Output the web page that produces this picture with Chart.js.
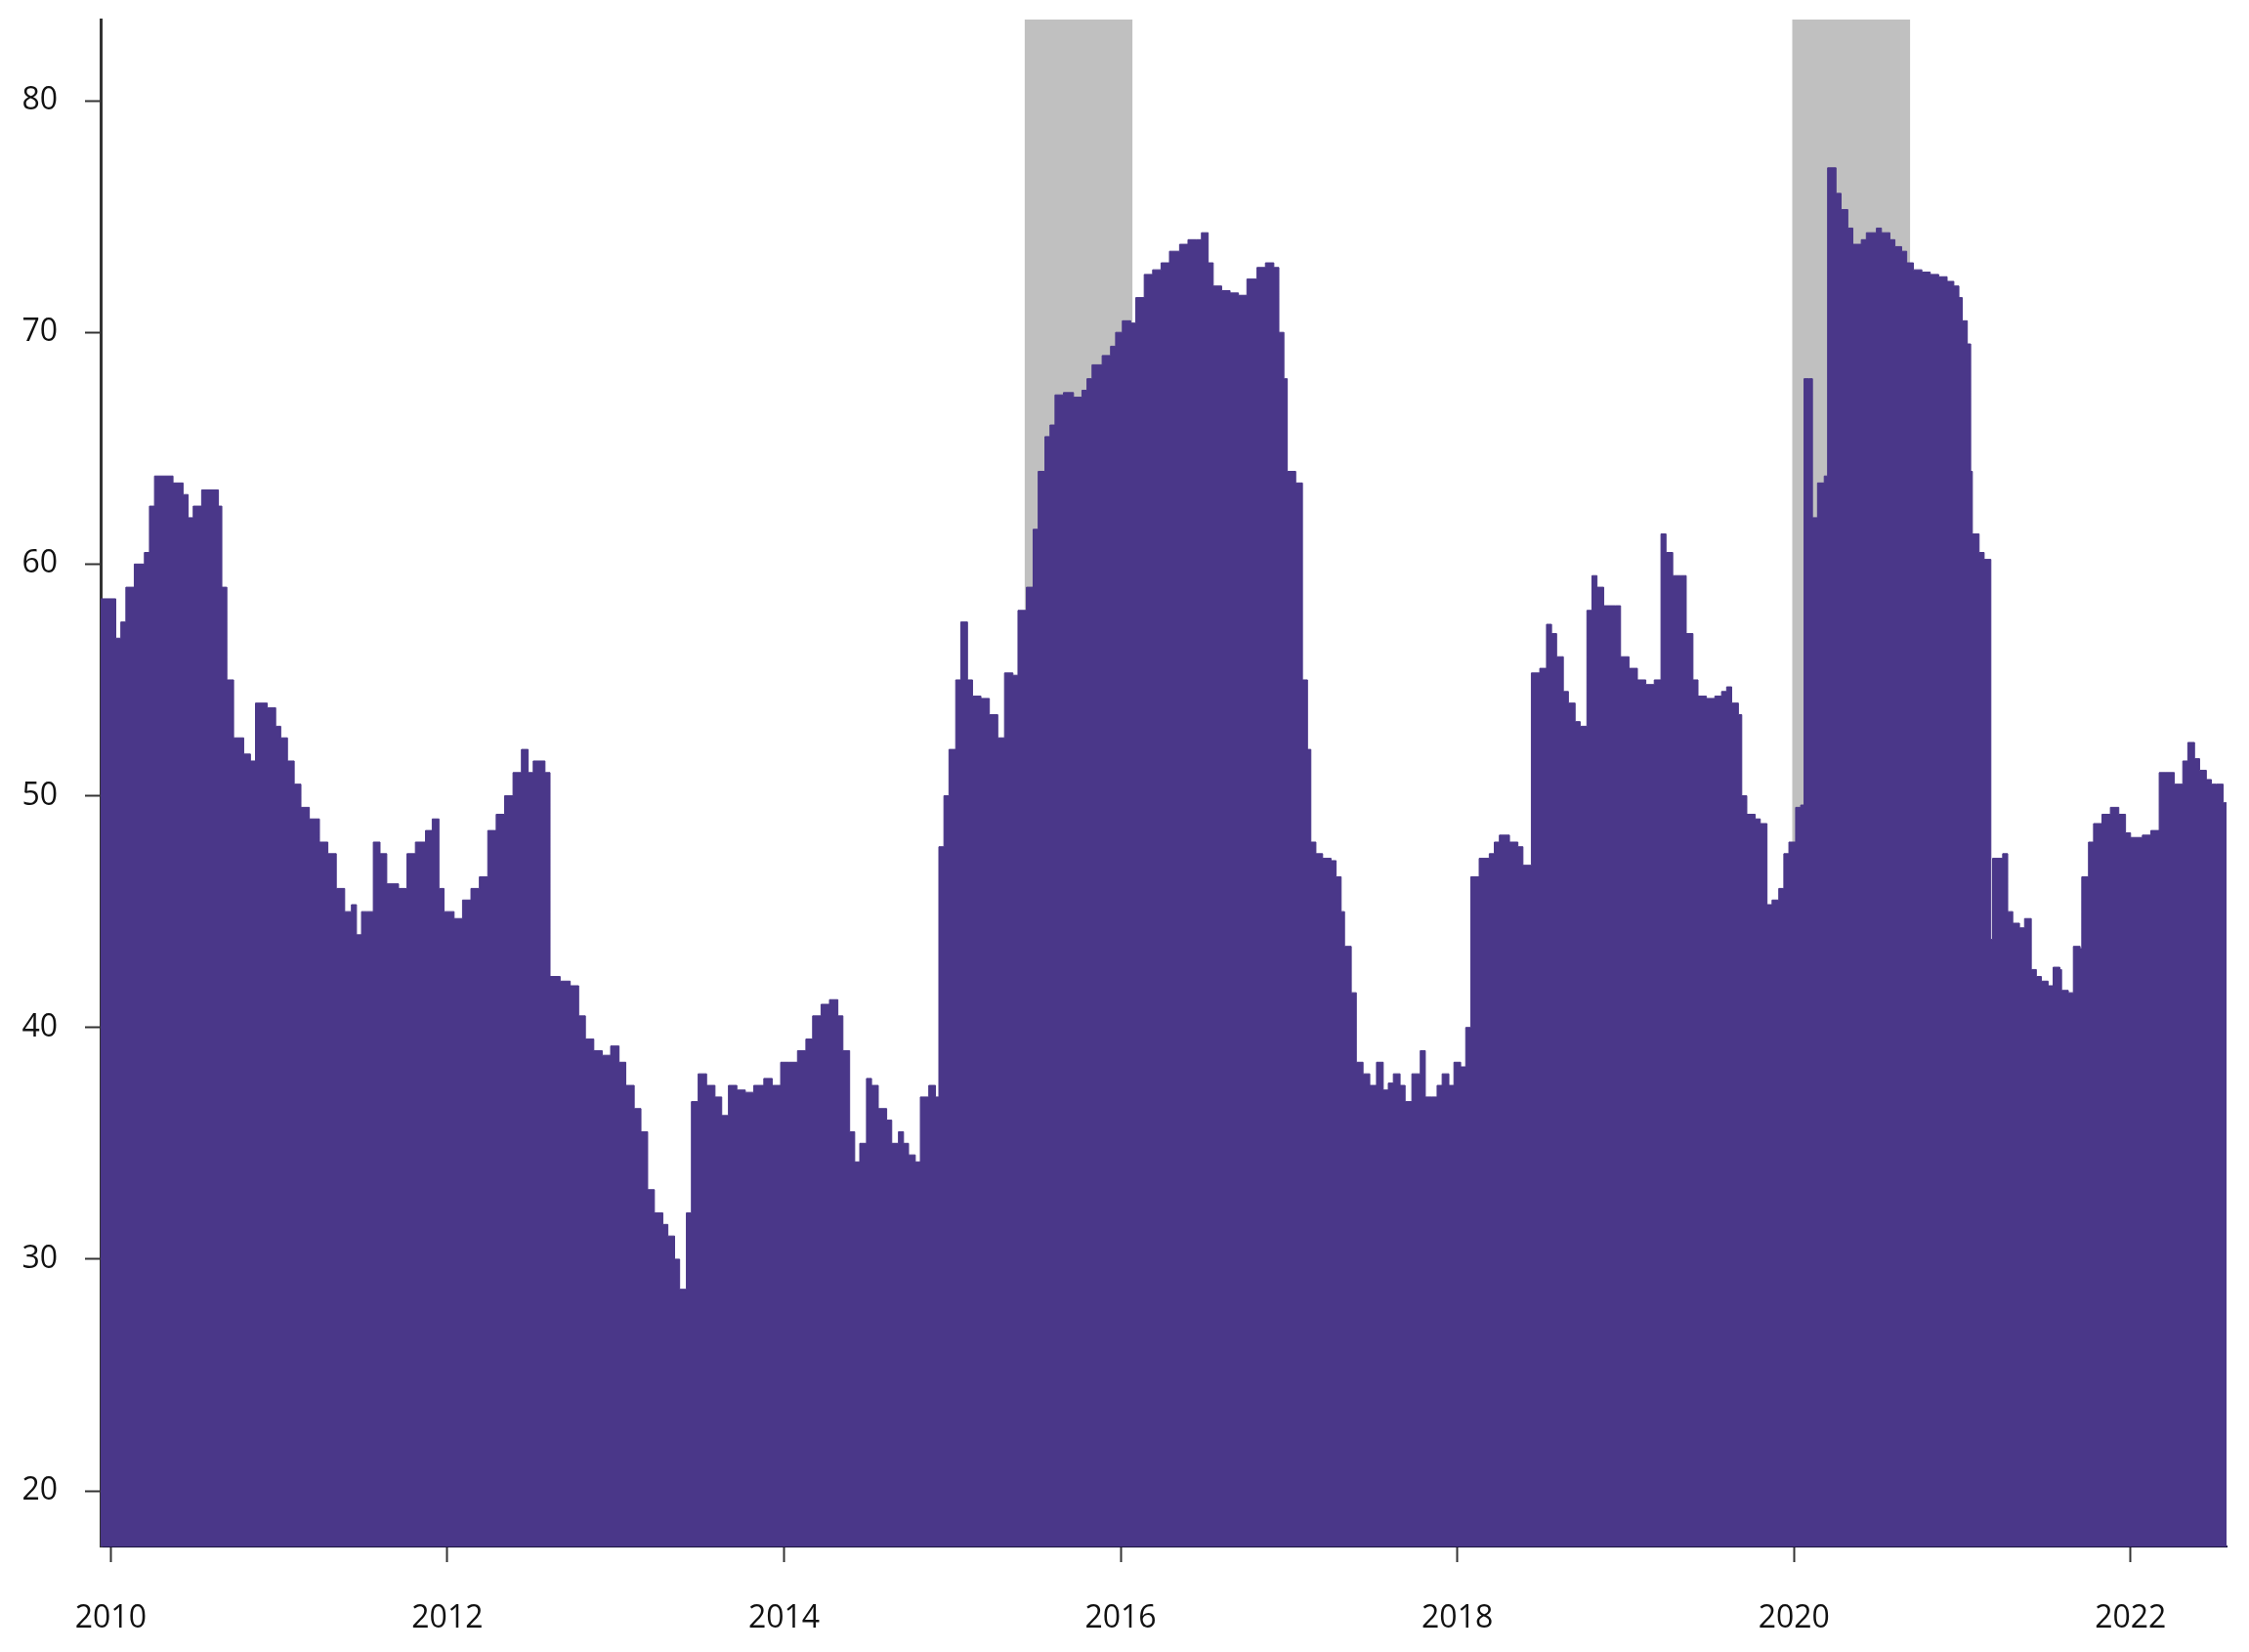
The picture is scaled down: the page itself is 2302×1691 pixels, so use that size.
<!DOCTYPE html>
<html>
<head>
<meta charset="utf-8">
<script src="https://cdn.jsdelivr.net/npm/chart.js@4"></script>
<style>
  html, body { margin: 0; padding: 0; background: #ffffff; }
  #wrap { width: 2302px; height: 1691px; }
</style>
</head>
<body>
<div id="wrap"><canvas id="myChart"></canvas></div>
<script>
// decimal years of each step start
const dates = [
  2009.94, 2010.03, 2010.06, 2010.09, 2010.14, 2010.20, 2010.23, 2010.26, 2010.37, 2010.43,
  2010.46, 2010.49, 2010.54, 2010.64, 2010.66, 2010.69, 2010.73, 2010.79, 2010.83, 2010.86,
  2010.93, 2010.98, 2011.01, 2011.05, 2011.09, 2011.13, 2011.18, 2011.24, 2011.29, 2011.34,
  2011.39, 2011.43, 2011.46, 2011.49, 2011.52, 2011.56, 2011.60, 2011.64, 2011.71, 2011.76,
  2011.81, 2011.87, 2011.91, 2011.95, 2011.98, 2012.04, 2012.09, 2012.14, 2012.19, 2012.24,
  2012.29, 2012.34, 2012.39, 2012.44, 2012.48, 2012.51, 2012.58, 2012.61, 2012.67, 2012.73,
  2012.78, 2012.82, 2012.87, 2012.92, 2012.97, 2013.02, 2013.06, 2013.11, 2013.15, 2013.19,
  2013.23, 2013.28, 2013.31, 2013.35, 2013.38, 2013.42, 2013.45, 2013.49, 2013.54, 2013.59,
  2013.63, 2013.67, 2013.72, 2013.77, 2013.82, 2013.88, 2013.93, 2013.98, 2014.03, 2014.08,
  2014.13, 2014.17, 2014.22, 2014.27, 2014.32, 2014.35, 2014.39, 2014.42, 2014.45, 2014.49,
  2014.52, 2014.56, 2014.61, 2014.64, 2014.68, 2014.71, 2014.74, 2014.78, 2014.81, 2014.86,
  2014.90, 2014.92, 2014.95, 2014.98, 2015.02, 2015.05, 2015.09, 2015.12, 2015.17, 2015.22,
  2015.27, 2015.31, 2015.36, 2015.39, 2015.44, 2015.48, 2015.51, 2015.55, 2015.58, 2015.61,
  2015.66, 2015.72, 2015.77, 2015.80, 2015.83, 2015.89, 2015.94, 2015.97, 2016.01, 2016.06,
  2016.09, 2016.14, 2016.19, 2016.24, 2016.29, 2016.35, 2016.40, 2016.45, 2016.48, 2016.52,
  2016.55, 2016.60, 2016.65, 2016.70, 2016.75, 2016.81, 2016.86, 2016.91, 2016.94, 2016.97,
  2016.99, 2017.04, 2017.08, 2017.11, 2017.13, 2017.16, 2017.20, 2017.25, 2017.28, 2017.31,
  2017.33, 2017.37, 2017.40, 2017.44, 2017.48, 2017.52, 2017.56, 2017.59, 2017.62, 2017.66,
  2017.69, 2017.73, 2017.78, 2017.81, 2017.85, 2017.88, 2017.91, 2017.95, 2017.98, 2018.02,
  2018.05, 2018.08, 2018.13, 2018.19, 2018.22, 2018.25, 2018.31, 2018.36, 2018.39, 2018.42,
  2018.44, 2018.49, 2018.53, 2018.56, 2018.59, 2018.63, 2018.66, 2018.70, 2018.73, 2018.77,
  2018.80, 2018.83, 2018.87, 2018.94, 2018.97, 2019.02, 2019.07, 2019.12, 2019.17, 2019.21,
  2019.24, 2019.28, 2019.33, 2019.36, 2019.40, 2019.43, 2019.48, 2019.53, 2019.57, 2019.60,
  2019.63, 2019.67, 2019.69, 2019.72, 2019.77, 2019.80, 2019.84, 2019.87, 2019.91, 2019.94,
  2019.97, 2020.01, 2020.04, 2020.06, 2020.09, 2020.11, 2020.14, 2020.18, 2020.20, 2020.25,
  2020.28, 2020.32, 2020.35, 2020.40, 2020.43, 2020.49, 2020.52, 2020.57, 2020.60, 2020.64,
  2020.67, 2020.71, 2020.76, 2020.81, 2020.86, 2020.91, 2020.95, 2020.98, 2021.00, 2021.03,
  2021.05, 2021.06, 2021.10, 2021.13, 2021.17, 2021.18, 2021.24, 2021.27, 2021.30, 2021.34,
  2021.37, 2021.41, 2021.44, 2021.47, 2021.51, 2021.54, 2021.58, 2021.59, 2021.63, 2021.66,
  2021.70, 2021.71, 2021.75, 2021.78, 2021.83, 2021.88, 2021.93, 2021.97, 2022.00, 2022.07,
  2022.12, 2022.17, 2022.21, 2022.26, 2022.31, 2022.34, 2022.38, 2022.41, 2022.45, 2022.48,
  2022.51, 2022.55, 2022.57
];

const values = [
  58.5, 56.8, 57.5, 59, 60, 60.5, 62.5, 63.8, 63.5, 63,
  62, 62.5, 63.2, 62.5, 59, 55, 52.5, 51.8, 51.5, 54,
  53.8, 53, 52.5, 51.5, 50.5, 49.5, 49, 48, 47.5, 46,
  45, 45.3, 44, 45, 45, 48, 47.5, 46.2, 46, 47.5,
  48, 48.5, 49, 46, 45, 44.7, 45.5, 46, 46.5, 48.5,
  49.2, 50, 51, 52, 51, 51.5, 51, 42.2, 42, 41.8,
  40.5, 39.5, 39, 38.8, 39.2, 38.5, 37.5, 36.5, 35.5, 33,
  32, 31.5, 31, 30, 28.7, 32, 36.8, 38, 37.5, 37,
  36.2, 37.5, 37.3, 37.2, 37.5, 37.8, 37.5, 38.5, 38.5, 39,
  39.5, 40.5, 41, 41.2, 40.5, 39, 35.5, 34.2, 35, 37.8,
  37.5, 36.5, 36, 35, 35.5, 35, 34.5, 34.2, 37, 37.5,
  37, 47.8, 50, 52, 55, 57.5, 55, 54.3, 54.2, 53.5,
  52.5, 55.3, 55.2, 58, 59, 61.5, 64, 65.5, 66, 67.3,
  67.4, 67.2, 67.5, 68, 68.6, 69, 69.4, 70, 70.5, 70.4,
  71.5, 72.5, 72.7, 73, 73.5, 73.8, 74, 74, 74.3, 73,
  72, 71.8, 71.7, 71.6, 72.3, 72.8, 73, 72.8, 70, 68,
  64, 63.5, 55, 52, 48, 47.5, 47.3, 47.2, 46.5, 45,
  43.5, 41.5, 38.5, 38, 37.5, 38.5, 37.3, 37.6, 38, 37.5,
  36.8, 38, 39, 37, 37, 37.5, 38, 37.5, 38.5, 38.3,
  40, 46.5, 47.3, 47.5, 48, 48.3, 48, 47.8, 47, 47,
  55.3, 55.5, 57.4, 57, 56, 54.5, 54, 53.2, 53, 58,
  59.5, 59, 58.2, 58.2, 56, 55.5, 55, 54.8, 55, 61.3,
  60.5, 59.5, 59.5, 57, 55, 54.3, 54.2, 54.3, 54.5, 54.7,
  54, 53.5, 50, 49.2, 49, 48.8, 45.3, 45.5, 46, 47.5,
  48, 49.5, 49.6, 68, 68, 62, 63.5, 63.8, 77.1, 76,
  75.3, 74.5, 73.8, 74, 74.3, 74.5, 74.3, 74, 73.7, 73.5,
  73, 72.7, 72.6, 72.5, 72.4, 72.2, 72, 71.5, 70.5, 69.5,
  64, 61.3, 60.5, 60.2, 43.8, 47.3, 47.5, 45, 44.5, 44.3,
  44.7, 42.5, 42.2, 42, 41.8, 42.6, 42.5, 41.6, 41.5, 43.5,
  43.4, 46.5, 48, 48.8, 49.2, 49.5, 49.2, 48.4, 48.2, 48.3,
  48.5, 51, 51, 50.5, 51.5, 52.3, 51.6, 51.1, 50.7, 50.5,
  50.5, 49.7, 49.7
];

// shaded periods (start year, end year)
const shadeStart = [2015.43, 2019.99];
const shadeEnd = [2016.07, 2020.69];

const xTicks = [2010, 2012, 2014, 2016, 2018, 2020, 2022];
const yTicks = [20, 30, 40, 50, 60, 70, 80];

const AREA = '#4a3789';
const AXIS = '#333333';

Chart.defaults.font.family = '"Open Sans", "Noto Sans", sans-serif';
Chart.defaults.font.size = 32;
Chart.defaults.color = '#111111';

// grey bands behind the area
const shadePlugin = {
  id: 'shade',
  beforeDatasetsDraw(chart) {
    const { ctx, chartArea, scales } = chart;
    ctx.save();
    ctx.fillStyle = '#c0c0c0';
    for (let i = 0; i < shadeStart.length; i++) {
      const x0 = scales.x.getPixelForValue(shadeStart[i]);
      const x1 = scales.x.getPixelForValue(shadeEnd[i]);
      ctx.fillRect(x0, chartArea.top, x1 - x0, chartArea.bottom - chartArea.top);
    }
    ctx.restore();
  },
};

const points = dates.map((d, i) => ({ x: d, y: values[i] }));

new Chart(document.getElementById('myChart'), {
  type: 'line',
  data: {
    datasets: [
      {
        data: points,
        stepped: true,
        fill: 'start',
        backgroundColor: AREA,
        borderColor: AREA,
        borderWidth: 1,
        pointRadius: 0,
      },
    ],
  },
  options: {
    responsive: true,
    maintainAspectRatio: false,
    animation: false,
    layout: { padding: { top: 20, right: 23, left: 0, bottom: 0 } },
    plugins: {
      legend: { display: false },
      tooltip: { enabled: false },
    },
    scales: {
      x: {
        type: 'linear',
        min: 2009.94,
        max: 2022.57,
        afterBuildTicks: (scale) => {
          scale.ticks = xTicks.map((v) => ({ value: v }));
        },
        afterFit: (scale) => {
          scale.height = 108;
          scale.paddingLeft = 0;
          scale.paddingRight = 0;
        },
        ticks: {
          autoSkip: false,
          maxRotation: 0,
          padding: 39,
          callback: (v) => String(v),
        },
        grid: {
          drawOnChartArea: false,
          drawTicks: true,
          tickLength: 16,
          tickColor: AXIS,
          tickWidth: 2,
        },
        border: { display: true, color: '#1c1540', width: 2 },
      },
      y: {
        min: 17.6,
        max: 83.5,
        afterBuildTicks: (scale) => {
          scale.ticks = yTicks.map((v) => ({ value: v }));
        },
        afterFit: (scale) => {
          scale.width = 103;
          scale.paddingTop = 0;
          scale.paddingBottom = 0;
        },
        ticks: {
          autoSkip: false,
          padding: 28,
          callback: (v) => String(v),
        },
        grid: {
          drawOnChartArea: false,
          drawTicks: true,
          tickLength: 16,
          tickColor: AXIS,
          tickWidth: 2,
        },
        border: { display: true, color: AXIS, width: 3 },
      },
    },
  },
  plugins: [shadePlugin],
});
</script>
</body>
</html>
